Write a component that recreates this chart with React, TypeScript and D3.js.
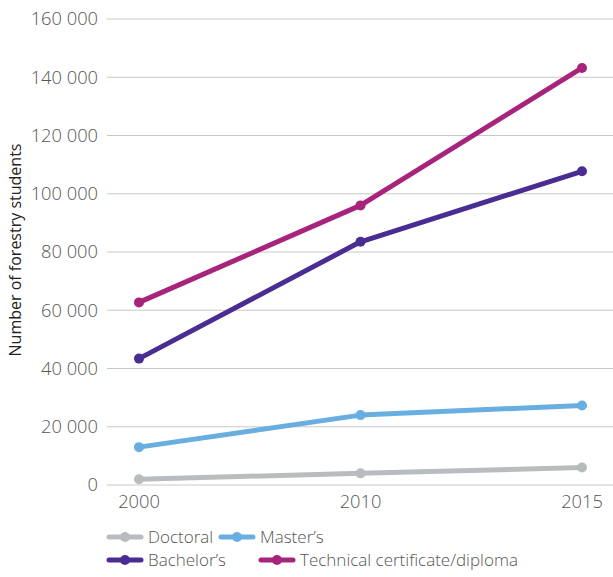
import React, { useEffect, useRef } from "react";
import * as d3 from "d3";

const years = ["2000", "2010", "2015"];
const yTicks = [0, 20000, 40000, 60000, 80000, 100000, 120000, 140000, 160000];

const doctoral = [2000, 4000, 6000];
const masters = [13000, 24000, 27300];
const bachelors = [43400, 83500, 107700];
const technical = [62700, 96000, 143200];

const seriesNames = ["Doctoral", "Master’s", "Bachelor’s", "Technical certificate/diploma"];
const seriesColors = ["#b8bcbf", "#69aee1", "#4a2d92", "#a8237b"];

const App = () => {
  const ref = useRef<SVGSVGElement>(null);

  useEffect(() => {
    const width = 613;
    const svg = d3.select(ref.current);
    svg.selectAll("*").remove();

    const font = "'Open Sans', sans-serif";
    const textColor = "#555";

    const x = d3.scalePoint().domain(years).range([139, 582]);
    const y = d3.scaleLinear().domain([0, 160000]).range([485, 19]);

    // gridlines
    svg
      .append("g")
      .selectAll("line")
      .data(yTicks)
      .enter()
      .append("line")
      .attr("x1", 107)
      .attr("x2", width)
      .attr("y1", (d) => y(d))
      .attr("y2", (d) => y(d))
      .attr("stroke", "#c8c8c8")
      .attr("stroke-width", 1);

    // y tick labels
    svg
      .append("g")
      .selectAll("text")
      .data(yTicks)
      .enter()
      .append("text")
      .attr("x", 98)
      .attr("y", (d) => y(d))
      .attr("dy", "0.35em")
      .attr("text-anchor", "end")
      .attr("font-family", font)
      .attr("font-weight", 300)
      .attr("font-size", 18.3)
      .attr("fill", textColor)
      .text((d) => d3.format(",")(d).replace(/,/g, " "));

    // x tick labels
    svg
      .append("g")
      .selectAll("text")
      .data(years)
      .enter()
      .append("text")
      .attr("x", (d) => x(d)!)
      .attr("y", 508)
      .attr("text-anchor", "middle")
      .attr("font-family", font)
      .attr("font-weight", 300)
      .attr("font-size", 18.3)
      .attr("fill", textColor)
      .text((d) => d);

    // y axis title
    svg
      .append("text")
      .attr("transform", "translate(21,250) rotate(-90)")
      .attr("text-anchor", "middle")
      .attr("font-family", font)
      .attr("font-size", 16)
      .attr("fill", "#222")
      .text("Number of forestry students");

    const allSeries = [doctoral, masters, bachelors, technical];
    const line = d3
      .line<number>()
      .x((_, i) => x(years[i])!)
      .y((d) => y(d));

    allSeries.forEach((vals, si) => {
      const g = svg.append("g");
      g.append("path")
        .datum(vals)
        .attr("d", line)
        .attr("fill", "none")
        .attr("stroke", seriesColors[si])
        .attr("stroke-width", 5)
        .attr("stroke-linecap", "round")
        .attr("stroke-linejoin", "round");
      g.selectAll("circle")
        .data(vals)
        .enter()
        .append("circle")
        .attr("cx", (_, i) => x(years[i])!)
        .attr("cy", (d) => y(d))
        .attr("r", 5)
        .attr("fill", seriesColors[si]);
    });

    // legend
    const legendItems = [
      { name: seriesNames[0], color: seriesColors[0], lx: 107, ly: 537 },
      { name: seriesNames[1], color: seriesColors[1], lx: 219, ly: 537 },
      { name: seriesNames[2], color: seriesColors[2], lx: 107, ly: 560 },
      { name: seriesNames[3], color: seriesColors[3], lx: 259, ly: 560 },
    ];
    const leg = svg
      .append("g")
      .selectAll("g")
      .data(legendItems)
      .enter()
      .append("g")
      .attr("transform", (d) => `translate(${d.lx},${d.ly})`);
    leg
      .append("line")
      .attr("x1", 2)
      .attr("x2", 34)
      .attr("stroke", (d) => d.color)
      .attr("stroke-width", 5)
      .attr("stroke-linecap", "round");
    leg
      .append("circle")
      .attr("cx", 18)
      .attr("r", 5)
      .attr("fill", (d) => d.color);
    leg
      .append("text")
      .attr("x", 41)
      .attr("dy", "0.35em")
      .attr("font-family", font)
      .attr("font-weight", 300)
      .attr("font-size", 17)
      .attr("fill", textColor)
      .text((d) => d.name);
  }, []);

  return <svg ref={ref} width={613} height={577} style={{ position: "absolute", left: 0, top: 0 }} />;
};

export default App;
